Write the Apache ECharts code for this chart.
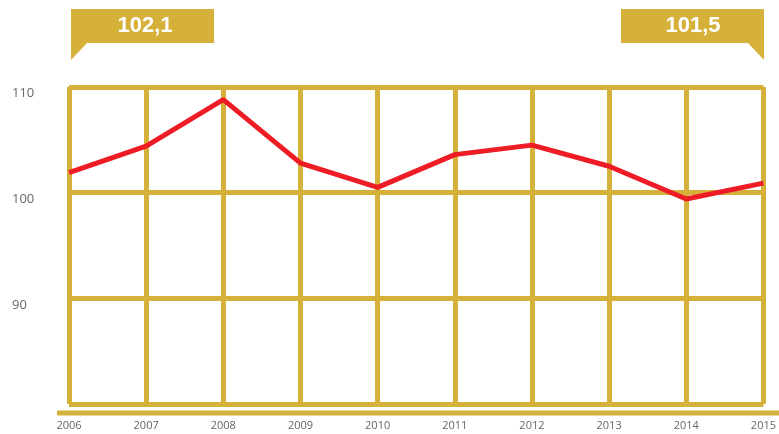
<!DOCTYPE html>
<html>
<head>
<meta charset="utf-8">
<script src="https://cdn.jsdelivr.net/npm/echarts@6/dist/echarts.min.js"></script>
<style>html,body{margin:0;padding:0;background:#fff}#c{width:779px;height:434px}</style>
</head>
<body>
<div id="c"></div>
<script>
const years = ['2006','2007','2008','2009','2010','2011','2012','2013','2014','2015'];
const values = [101.9, 104.4, 108.8, 102.8, 100.5, 103.6, 104.5, 102.5, 99.4, 100.9];
const yTicks = [80, 90, 100, 110];
const calloutLabels = ['102,1', '101,5'];

const GOLD = '#D6B13A';
const RED = '#EE1D25';

const chart = echarts.init(document.getElementById('c'));
chart.setOption({
  animation: false,
  grid: { left: 69, right: 13, top: 87, bottom: 30, containLabel: false },
  xAxis: {
    type: 'category',
    data: years,
    boundaryGap: false,
    axisLine: { show: false },
    axisTick: { show: false },
    axisLabel: { color: '#666', fontSize: 11, fontFamily: 'Open Sans', margin: 16, interval: 0 },
    splitLine: { show: true, lineStyle: { color: GOLD, width: 5 } }
  },
  yAxis: {
    type: 'value',
    min: yTicks[0],
    max: yTicks[yTicks.length - 1],
    interval: 10,
    axisLine: { show: false },
    axisTick: { show: false },
    axisLabel: {
      color: '#666', fontSize: 13, fontFamily: 'Open Sans',
      align: 'left', margin: 57, verticalAlign: 'top',
      showMinLabel: false
    },
    splitLine: { show: true, lineStyle: { color: GOLD, width: 5 } }
  },
  graphic: [
    { type: 'line', shape: { x1: 57, y1: 413, x2: 779, y2: 413 }, style: { stroke: GOLD, lineWidth: 5 } },
    { type: 'polygon', shape: { points: [[71,9],[214,9],[214,43],[87,43],[71,60]] }, style: { fill: GOLD } },
    { type: 'text', x: 145, y: 26, style: { text: calloutLabels[0], fill: '#fff', font: 'bold 22px Arial, "Liberation Sans"', textAlign: 'center', textVerticalAlign: 'middle' } },
    { type: 'polygon', shape: { points: [[621,9],[764,9],[764,60],[748,43],[621,43]] }, style: { fill: GOLD } },
    { type: 'text', x: 693, y: 26, style: { text: calloutLabels[1], fill: '#fff', font: 'bold 22px Arial, "Liberation Sans"', textAlign: 'center', textVerticalAlign: 'middle' } }
  ],
  series: [{
    type: 'line',
    data: values,
    symbol: 'none',
    lineStyle: { color: RED, width: 5 },
    z: 5
  }]
});
</script>
</body>
</html>
